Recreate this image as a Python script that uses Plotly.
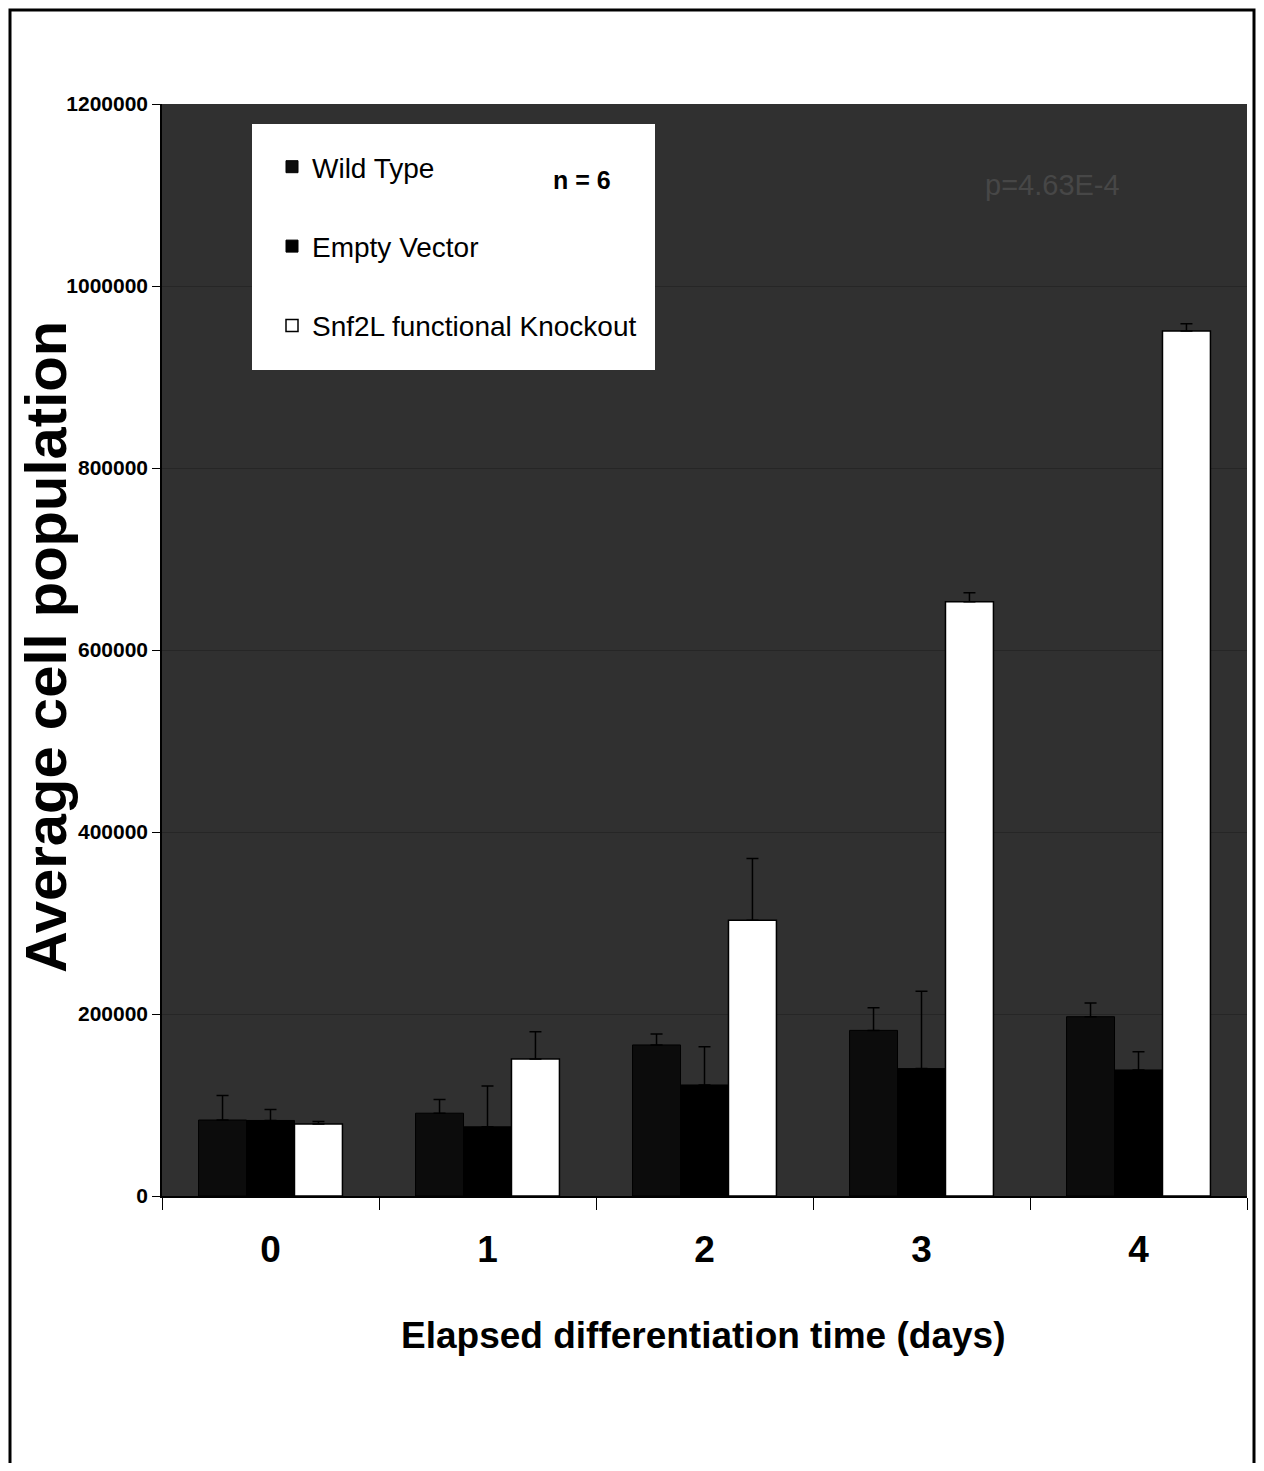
import plotly.graph_objects as go

days = ["0", "1", "2", "3", "4"]
wild_type = [83500, 91000, 166000, 182000, 197000]
wild_type_err = [27000, 15000, 12000, 25000, 15000]
empty_vector = [83000, 76000, 122000, 140000, 138500]
empty_vector_err = [12000, 45000, 42000, 85000, 20000]
knockout = [79000, 150500, 303000, 653000, 950500]
knockout_err = [3000, 30000, 68000, 10000, 8000]

y_ticks = [0, 200000, 400000, 600000, 800000, 1000000, 1200000]

FONT = "Liberation Sans, Arial, sans-serif"

fig = go.Figure()

def err(vals):
    return dict(type="data", array=vals, arrayminus=[0] * len(vals), symmetric=False,
                color="black", thickness=1.5, width=6)

fig.add_trace(go.Bar(x=days, y=wild_type, name="Wild Type", legendgroup="a",
                     marker=dict(color="#0c0c0c", line=dict(color="black", width=1)),
                     error_y=err(wild_type_err)))
fig.add_trace(go.Bar(x=days, y=empty_vector, name="Empty Vector", legendgroup="b",
                     marker=dict(color="#000000", line=dict(color="black", width=1)),
                     error_y=err(empty_vector_err)))
fig.add_trace(go.Bar(x=days, y=knockout, name="Snf2L functional Knockout", legendgroup="c",
                     marker=dict(color="#ffffff", line=dict(color="black", width=1.5)),
                     error_y=err(knockout_err)))

OFF = 8  # page body margin
W, H = 1248, 1455
# plot area in screen pixels
L, R, T, B = 162, 1247, 104, 1196
pw, ph = R - L, B - T


def px(x):
    return (x - L) / pw


def py(y):
    return (B - y) / ph


fig.update_layout(
    width=W, height=H,
    margin=dict(l=L - OFF, r=W - (R - OFF), t=T - OFF, b=H - (B - OFF), pad=0),
    paper_bgcolor="white",
    plot_bgcolor="#303030",
    barmode="group",
    bargap=0.337,
    bargroupgap=0,
    showlegend=True,
    legend=dict(
        x=px(272), y=py(142), xanchor="left", yanchor="top",
        bgcolor="rgba(0,0,0,0)", borderwidth=0,
        font=dict(family=FONT, size=28, color="black"),
        tracegroupgap=40, traceorder="grouped",
    ),
    xaxis=dict(
        type="category",
        showline=True, linecolor="black", linewidth=1.5,
        ticks="outside", tickson="boundaries", ticklen=12, tickcolor="black",
        ticklabelstandoff=20,
        tickfont=dict(family=FONT, size=37, color="black", weight="bold"),
        showgrid=False,
    ),
    yaxis=dict(
        range=[0, 1200000], tickvals=y_ticks, tickformat="d",
        showline=True, linecolor="black", linewidth=1.5,
        ticks="outside", ticklen=8, tickcolor="black",
        tickfont=dict(family=FONT, size=21, color="black", weight="bold"),
        showgrid=True, gridcolor="#262626", gridwidth=1,
        zeroline=False,
    ),
    shapes=[
        dict(type="rect", xref="paper", yref="paper",
             x0=px(252), x1=px(655), y0=py(370), y1=py(124),
             fillcolor="white", line=dict(width=0), layer="above"),
        dict(type="rect", xref="paper", yref="paper",
             x0=px(10), x1=px(1254), y0=py(1500), y1=py(10),
             fillcolor="rgba(0,0,0,0)", line=dict(color="black", width=3)),
    ],
    annotations=[
        dict(text="n = 6", xref="paper", yref="paper", x=px(582), y=py(180),
             xanchor="center", yanchor="middle", showarrow=False,
             font=dict(family=FONT, size=25, color="black", weight="bold")),
        dict(text="p=4.63E-4", xref="paper", yref="paper", x=px(1052), y=py(185),
             xanchor="center", yanchor="middle", showarrow=False,
             font=dict(family=FONT, size=29, color="#474747")),
        dict(text="Average cell population", xref="paper", yref="paper",
             x=px(45), y=py(647), xanchor="center", yanchor="middle",
             textangle=-90, showarrow=False,
             font=dict(family=FONT, size=58, color="black", weight="bold")),
        dict(text="Elapsed differentiation time (days)", xref="paper", yref="paper",
             x=px(703), y=py(1335), xanchor="center", yanchor="middle", showarrow=False,
             font=dict(family=FONT, size=37, color="black", weight="bold")),
    ],
)

fig.write_html("out.html")
